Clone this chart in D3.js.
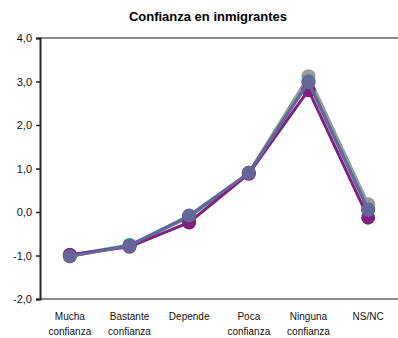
<!DOCTYPE html>
<html>
<head>
<meta charset="utf-8">
<script src="https://cdn.jsdelivr.net/npm/d3@7/dist/d3.min.js"></script>
<style>
  html, body { margin: 0; padding: 0; background: #fff; }
  svg { display: block; font-family: "Liberation Sans", Arial, sans-serif; }
</style>
</head>
<body>
<svg id="chart" width="398" height="338"></svg>
<script>
// Categories (two-line labels)
const categories = [
  ["Mucha", "confianza"],
  ["Bastante", "confianza"],
  ["Depende"],
  ["Poca", "confianza"],
  ["Ninguna", "confianza"],
  ["NS/NC"]
];

// Series values, one array per series
const seriesGray   = [-1.02, -0.78, -0.12, 0.90, 3.12, 0.18];
const seriesTeal   = [-1.00, -0.76, -0.10, 0.90, 3.00, 0.06];
const seriesPurple = [-0.98, -0.80, -0.24, 0.88, 2.80, -0.13];
const seriesBlue   = [-1.02, -0.78, -0.08, 0.90, 2.98, 0.05];

const seriesColors = ["#999999", "#2e8b8b", "#7f1f7f", "#666699"];
const allSeries = [seriesGray, seriesTeal, seriesPurple, seriesBlue];

const yTicks = [-2, -1, 0, 1, 2, 3, 4];

const svg = d3.select("#chart");
const margin = { left: 40, right: 0, top: 38, bottom: 39 };
const W = 398, H = 338;

const x = d3.scaleBand()
  .domain(d3.range(categories.length))
  .range([margin.left, W - margin.right]);

const y = d3.scaleLinear()
  .domain([-2, 4])
  .range([H - margin.bottom, margin.top]);

// Title
svg.append("text")
  .attr("x", 208).attr("y", 21)
  .attr("text-anchor", "middle")
  .attr("font-size", 13).attr("font-weight", "bold")
  .text("Confianza en inmigrantes");

// Top frame line and bottom axis line (gray)
svg.append("line")
  .attr("x1", margin.left).attr("x2", W)
  .attr("y1", y(4)).attr("y2", y(4))
  .attr("stroke", "#8c8c8c").attr("stroke-width", 2);
svg.append("line")
  .attr("x1", margin.left).attr("x2", W)
  .attr("y1", y(-2)).attr("y2", y(-2))
  .attr("stroke", "#8c8c8c").attr("stroke-width", 2);

// Left axis
const yAxis = d3.axisLeft(y)
  .tickValues(yTicks)
  .tickSize(4)
  .tickPadding(4)
  .tickFormat(d => d3.format(".1f")(d).replace(".", ",").replace("−", "-"));
const gY = svg.append("g")
  .attr("transform", `translate(${margin.left},0)`)
  .call(yAxis);
gY.select(".domain").attr("stroke", "#222").attr("stroke-width", 2);
gY.selectAll(".tick line").attr("stroke", "#222").attr("stroke-width", 1.5);
gY.selectAll(".tick text")
  .attr("font-size", 11).attr("fill", "#111")
  .attr("font-family", "Liberation Sans, Arial, sans-serif");

// Category labels
const catG = svg.append("g");
categories.forEach((lines, i) => {
  const t = catG.append("text")
    .attr("x", x(i) + x.bandwidth() / 2)
    .attr("y", 320)
    .attr("text-anchor", "middle")
    .attr("font-size", 10).attr("fill", "#111");
  lines.forEach((ln, j) => {
    t.append("tspan")
      .attr("x", x(i) + x.bandwidth() / 2)
      .attr("dy", j === 0 ? 0 : 15)
      .text(ln);
  });
});

// Lines and markers
const line = d3.line()
  .x((d, i) => x(i) + x.bandwidth() / 2)
  .y(d => y(d));

allSeries.forEach((vals, s) => {
  const g = svg.append("g");
  g.append("path")
    .datum(vals)
    .attr("d", line)
    .attr("fill", "none")
    .attr("stroke", seriesColors[s])
    .attr("stroke-width", 3);
  g.selectAll("circle")
    .data(vals)
    .join("circle")
    .attr("cx", (d, i) => x(i) + x.bandwidth() / 2)
    .attr("cy", d => y(d))
    .attr("r", 7)
    .attr("fill", seriesColors[s]);
});
</script>
</body>
</html>
